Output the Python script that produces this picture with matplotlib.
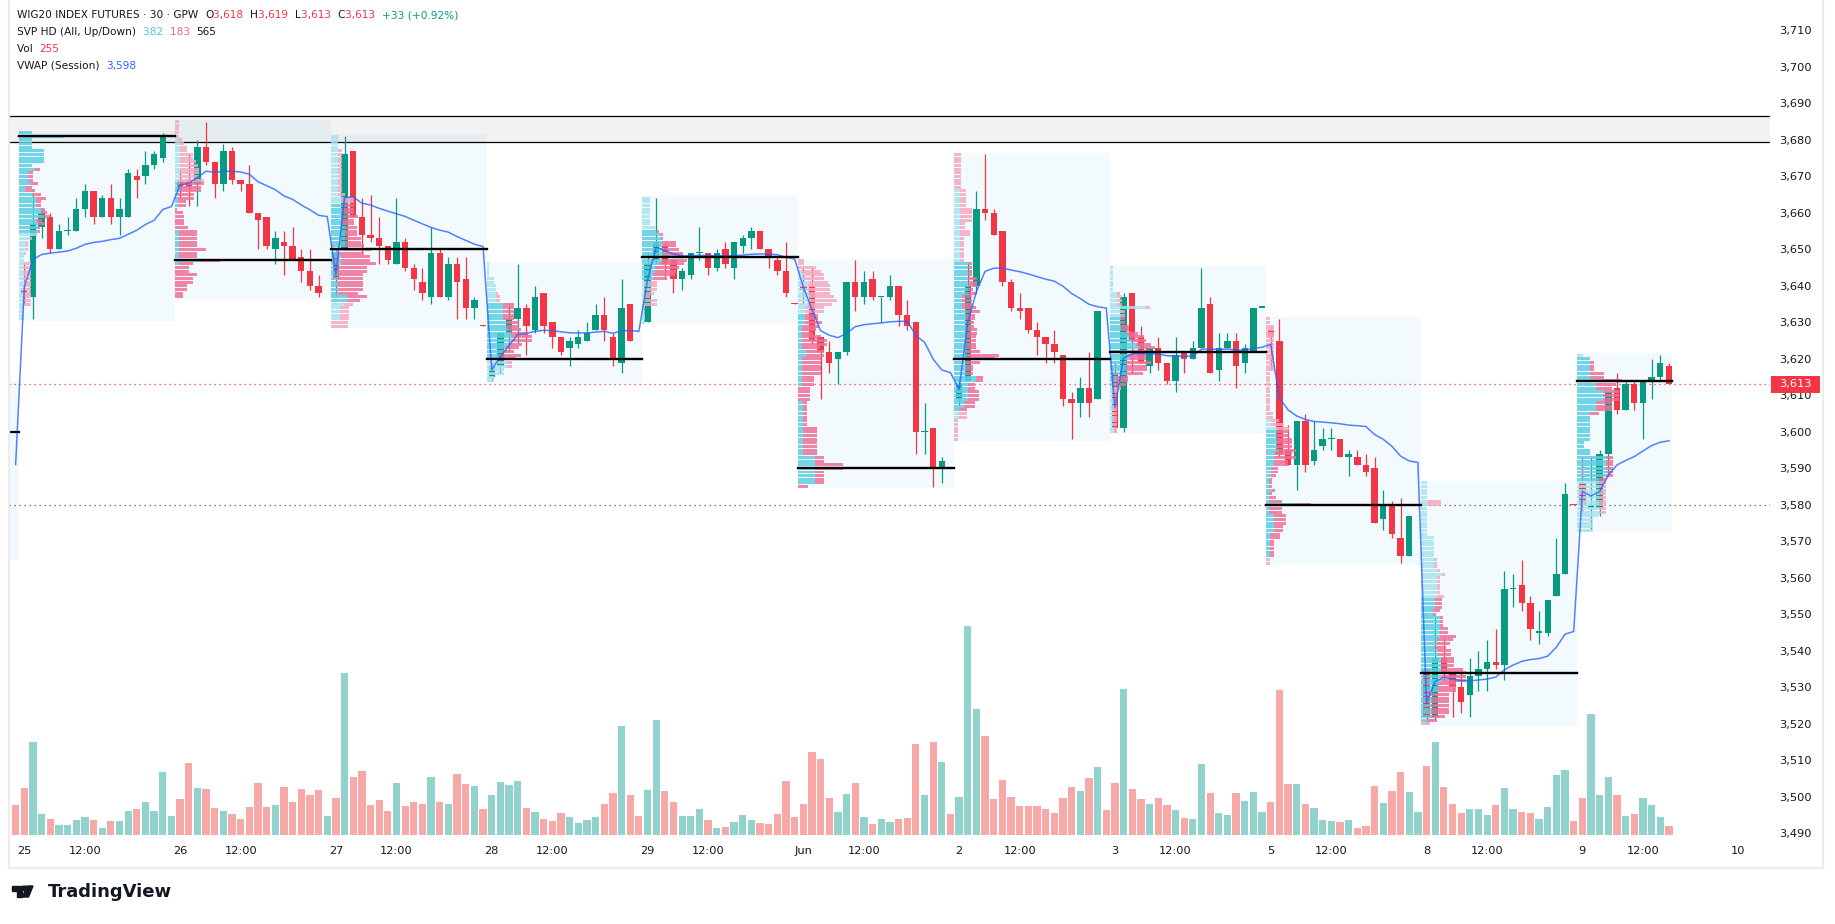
import matplotlib
matplotlib.use('Agg')
import matplotlib.pyplot as plt
import numpy as np
from matplotlib.patches import Rectangle, Polygon, Circle

# WIG20 index futures, 30 minute bars, 18 bars per session (08:30 .. 17:00)
day_labels = ['25', '26', '27', '28', '29', 'Jun', '2', '3', '5', '8', '9', '10']
BARS_PER_DAY = 18

# first value of every list = last bar of the 22 May session (index -1)
opens = [3600.2,
    3639, 3637, 3656, 3659, 3650, 3655, 3655, 3661, 3666, 3659, 3664, 3659, 3659, 3670, 3670, 3673, 3675, 3681,
    3669, 3669, 3668, 3678, 3674, 3668, 3677, 3669, 3668, 3660, 3659, 3650, 3652, 3651, 3648, 3644, 3640, 3647,
    3649, 3650, 3677, 3659, 3654, 3653, 3651, 3646, 3652, 3645, 3641, 3637, 3649, 3637, 3646, 3642, 3634, 3629.3,
    3615, 3618, 3627, 3631, 3634, 3628, 3638, 3630, 3626, 3623, 3624, 3625, 3628, 3632, 3626, 3619, 3635, 3620.3,
    3630, 3647, 3651, 3647, 3642, 3643, 3649, 3649, 3645, 3650, 3645, 3651, 3653, 3655, 3650, 3647, 3644, 3635.3,
    3640, 3640, 3626, 3622, 3620, 3622, 3641, 3637, 3642, 3637, 3637, 3640, 3632, 3630, 3600, 3601, 3590, 3590.3,
    3609, 3614, 3640, 3661, 3660, 3655, 3641, 3634, 3634, 3628, 3626, 3624, 3621, 3609, 3608, 3612, 3609, 3620.3,
    3616, 3601, 3638, 3626, 3618, 3623, 3619, 3614, 3622, 3620, 3623, 3635, 3617, 3623, 3625, 3619, 3622, 3634,
    3628, 3625, 3595, 3591, 3603, 3592, 3596, 3598, 3598, 3593, 3593, 3591, 3590, 3576, 3580, 3571, 3566, 3580,
    3535, 3522, 3538, 3534, 3530, 3528, 3533, 3535, 3537, 3536, 3557, 3558, 3553, 3545, 3545, 3555, 3561, 3580.3,
    3586, 3579, 3579, 3594, 3612, 3606, 3613, 3608, 3614, 3615, 3618]
highs = [3600.2,
    3646, 3665, 3661, 3660, 3657, 3659, 3664, 3668, 3666, 3665, 3668, 3664, 3672, 3672, 3677, 3677, 3682, 3681,
    3672, 3676, 3680, 3685, 3674, 3679, 3678, 3669, 3673, 3660, 3659, 3655, 3655, 3656, 3650, 3650, 3643, 3647,
    3650, 3681, 3677, 3664, 3665, 3659, 3651, 3664, 3653, 3646, 3645, 3656, 3650, 3648, 3648, 3648, 3637, 3629.3,
    3619, 3627, 3635, 3646, 3635, 3640, 3638, 3630, 3626, 3626, 3628, 3630, 3635, 3637, 3627, 3642, 3635, 3620.3,
    3649, 3664, 3652, 3647, 3645, 3649, 3656, 3649, 3650, 3652, 3652, 3654, 3656, 3655, 3650, 3648, 3652, 3635.3,
    3645, 3645, 3626, 3625, 3622, 3641, 3647, 3644, 3644, 3637, 3643, 3640, 3636, 3630, 3608, 3601, 3593, 3590.3,
    3615, 3646, 3666, 3676, 3661, 3655, 3642, 3638, 3634, 3630, 3626, 3628, 3621, 3611, 3615, 3622, 3633, 3620.3,
    3619, 3638, 3638, 3629, 3623, 3626, 3619, 3626, 3622, 3625, 3645, 3637, 3627, 3627, 3627, 3624, 3634, 3634,
    3629, 3631, 3602, 3603, 3605, 3603, 3601, 3601, 3598, 3595, 3595, 3594, 3593, 3584, 3581, 3582, 3577, 3580,
    3535, 3549, 3544, 3534, 3534, 3538, 3540, 3543, 3546, 3562, 3561, 3565, 3555, 3551, 3554, 3571, 3586, 3580.3,
    3593, 3593, 3595, 3611, 3616, 3614, 3614, 3614, 3620, 3621, 3619]
lows = [3600,
    3635, 3631, 3653, 3649, 3650, 3654, 3655, 3659, 3657, 3659, 3657, 3654, 3659, 3664, 3668, 3672, 3674, 3681,
    3664, 3662, 3662, 3673, 3664, 3666, 3668, 3666, 3660, 3650, 3650, 3646, 3643, 3647, 3641, 3639, 3637, 3647,
    3637, 3650, 3659, 3649, 3652, 3646, 3646, 3646, 3644, 3639, 3636, 3635, 3637, 3636, 3631, 3631, 3631, 3629,
    3614, 3616, 3622, 3624, 3621, 3627, 3627, 3623, 3621, 3618, 3623, 3625, 3628, 3625, 3618, 3616, 3625, 3620,
    3630, 3646, 3642, 3638, 3639, 3642, 3647, 3643, 3644, 3645, 3642, 3649, 3650, 3650, 3645, 3643, 3637, 3635,
    3635, 3624, 3609, 3616, 3613, 3621, 3633, 3635, 3636, 3630, 3636, 3629, 3628, 3594, 3594, 3585, 3586, 3590,
    3607, 3614, 3638, 3658, 3654, 3640, 3633, 3631, 3627, 3621, 3619, 3619, 3607, 3598, 3604, 3604, 3609, 3620,
    3600, 3600, 3616, 3619, 3616, 3617, 3613, 3611, 3616, 3620, 3623, 3616, 3614, 3623, 3612, 3616, 3622, 3634,
    3617, 3593, 3591, 3584, 3589, 3591, 3595, 3595, 3593, 3588, 3591, 3588, 3575, 3573, 3571, 3564, 3566, 3580,
    3520, 3521, 3532, 3522, 3523, 3522, 3529, 3529, 3535, 3532, 3552, 3551, 3543, 3542, 3544, 3555, 3561, 3580,
    3578, 3573, 3577, 3588, 3605, 3606, 3606, 3598, 3609, 3614, 3613]
closes = [3600,
    3638, 3657, 3660, 3650, 3655, 3655, 3661, 3666, 3659, 3664, 3659, 3661, 3671, 3669, 3673, 3676, 3681, 3681,
    3667, 3667, 3678, 3674, 3668, 3677, 3669, 3668, 3660, 3658, 3651, 3653, 3651, 3647, 3644, 3640, 3638, 3647,
    3642, 3676, 3659, 3654, 3653, 3651, 3647, 3652, 3645, 3642, 3638, 3649, 3637, 3646, 3641, 3634, 3636, 3629,
    3618, 3627, 3631, 3634, 3629, 3637, 3629, 3626, 3622, 3625, 3626, 3627, 3632, 3628, 3620, 3634, 3625, 3620,
    3646, 3652, 3646, 3642, 3644, 3649, 3649, 3645, 3649, 3646, 3652, 3653, 3655, 3650, 3648, 3644, 3638, 3635,
    3639, 3625, 3622, 3619, 3622, 3641, 3637, 3641, 3637, 3637, 3640, 3632, 3629, 3600, 3600, 3590, 3592, 3590,
    3613, 3640, 3661, 3660, 3654, 3641, 3634, 3633, 3628, 3626, 3624, 3622, 3609, 3608, 3612, 3608, 3633, 3620,
    3601, 3637, 3625, 3619, 3623, 3619, 3614, 3621, 3620, 3623, 3634, 3616, 3623, 3625, 3618, 3623, 3634, 3634,
    3626, 3594, 3591, 3603, 3591, 3595, 3598, 3598, 3593, 3594, 3591, 3589, 3575, 3580, 3572, 3566, 3577, 3580,
    3522, 3538, 3534, 3530, 3526, 3533, 3535, 3537, 3536, 3557, 3557, 3553, 3546, 3545, 3554, 3561, 3583, 3580,
    3580, 3580, 3594, 3611, 3606, 3613, 3608, 3614, 3615, 3619, 3613]
volumes = [852,
    1321, 2641, 582, 435, 264, 264, 409, 488, 409, 185, 383, 383, 662, 713, 912, 662, 1769, 514,
    1003, 2022, 1321, 1281, 753, 662, 582, 435, 778, 1454, 778, 832, 1346, 912, 1281, 1122, 1255, 514,
    1031, 4584, 1624, 1798, 832, 977, 662, 1454, 807, 912, 858, 1624, 912, 858, 1718, 1426, 1375, 713,
    1122, 1480, 1400, 1519, 753, 633, 435, 383, 608, 488, 318, 409, 488, 858, 1176, 3079, 1122, 514,
    1255, 3249, 1230, 912, 514, 514, 713, 409, 185, 210, 358, 554, 409, 318, 290, 582, 1519, 488,
    858, 2337, 2139, 1031, 633, 1150, 1454, 488, 290, 435, 358, 435, 463, 2562, 1122, 2616, 2048, 582,
    1056, 5919, 3578, 2786, 1003, 1545, 1056, 807, 807, 807, 713, 608, 1031, 1346, 1230, 1599, 1914, 687,
    1454, 4146, 1281, 1003, 858, 1031, 832, 687, 463, 435, 1994, 1176, 608, 554, 1176, 951, 1201, 633,
    912, 4095, 1426, 1426, 858, 753, 409, 383, 358, 409, 185, 239, 1375, 886, 1230, 1769, 1201, 633,
    1960, 2641, 1355, 880, 625, 730, 730, 560, 852, 1326, 730, 653, 625, 454, 787, 1704, 1846, 398,
    1042, 3428, 1136, 1639, 1136, 540, 596, 1042, 852, 503, 255]

prev_vwap = 3591            # session VWAP of 22 May at the left edge
prev_box = (3565, 3614)     # 22 May profile range (only a sliver is visible)
poc_levels = [3600, 3681, 3647, 3650, 3620, 3648, 3590, 3620, 3622, 3580, 3534, 3614]
zone = (3679.5, 3686.6)     # grey resistance band
last_price = 3613
prev_close = 3580

GREEN, RED = '#089981', '#f23645'
TXT = '#131722'

o = np.array(opens, float)
h = np.array(highs, float)
l = np.array(lows, float)
c = np.array(closes, float)
v = np.array(volumes, float)
assert len(o) == len(h) == len(l) == len(c) == len(v)
idx = np.arange(len(o)) - 1
up = c >= o

fig = plt.figure(figsize=(18.35, 9.24), dpi=100)
W, H = 1835, 924
ax_v = fig.add_axes([9.4 / W, 1 - 839 / H, (1769.5 - 9.4) / W, 836 / H])
ax = fig.add_axes(ax_v.get_position(), sharex=ax_v)
ax.set_zorder(ax_v.get_zorder() + 1)
ax.patch.set_visible(False)

ax.set_xlim(-1.72, 201.62)
ax.set_ylim(3488.44, 3717.51)

# volume (overlay pane at the bottom)
ax_v.bar(idx, v, width=0.84, color=np.where(up, '#92d2cc', '#f7a9a7'), zorder=1)
ax_v.set_ylim(-125, 23617)
ax_v.axis('off')

# session boxes, profiles, POC lines
n_days = len(day_labels) - 1
ax.add_patch(Rectangle((-1.6, prev_box[0]), 1.0, prev_box[1] - prev_box[0],
                       facecolor='#f2fafd', edgecolor='none', zorder=1))
ax.plot([-1.6, -0.6], [poc_levels[0]] * 2, color='black', lw=1.6, zorder=7)

vwap = [prev_vwap]
for d in range(n_days):
    sel = (idx >= d * BARS_PER_DAY) & (idx < (d + 1) * BARS_PER_DAY)
    if not sel.any():
        continue
    bi = idx[sel]
    x0, x1 = bi[0] - 0.6, bi[-1] + 0.4
    lo, hi = l[sel].min(), h[sel].max()
    ax.add_patch(Rectangle((x0, lo - 0.5), x1 - x0, hi - lo + 1.0,
                           facecolor='#f2fafd', edgecolor='none', zorder=1))

    levels = np.arange(np.floor(lo), np.ceil(hi) + 1)
    vu = np.zeros(len(levels))
    vd = np.zeros(len(levels))
    for lo_b, hi_b, vol_b, up_b in zip(l[sel], h[sel], v[sel], up[sel]):
        m = (levels >= np.floor(lo_b)) & (levels <= np.ceil(hi_b))
        if up_b:
            vu[m] += vol_b / m.sum()
        else:
            vd[m] += vol_b / m.sum()
    tot = vu + vd
    # value area: 70% of the session volume around the POC row
    p = int(np.argmax(tot))
    a, b = p, p
    acc = tot[p]
    while acc < 0.7 * tot.sum():
        below = tot[a - 1] if a > 0 else -1
        above = tot[b + 1] if b < len(tot) - 1 else -1
        if above >= below:
            b += 1
            acc += tot[b]
        else:
            a -= 1
            acc += tot[a]
    in_va = (np.arange(len(tot)) >= a) & (np.arange(len(tot)) <= b)
    scale = 5.2 / tot.max()
    ax.barh(levels, vu * scale, left=x0, height=0.82,
            color=np.where(in_va, '#5ccfe4', '#a8e3ee'), alpha=0.85, zorder=4)
    ax.barh(levels, vd * scale, left=x0 + vu * scale, height=0.82,
            color=np.where(in_va, '#ef6f98', '#f5a9c2'), alpha=0.85, zorder=4)
    ax.plot([x0, x1], [poc_levels[d + 1]] * 2, color='black', lw=1.7, zorder=7)

    tp = (h[sel] + l[sel] + c[sel]) / 3
    vwap += list(np.cumsum(tp * v[sel]) / np.cumsum(v[sel]))

ax.plot(idx, vwap, color='#2962ff', lw=1.1, alpha=0.8, zorder=6)

# candles
col = np.where(up, GREEN, RED)
ax.vlines(idx, l, h, colors=col, lw=0.9, zorder=3)
body = np.maximum(np.abs(c - o), 0.35)
ax.bar(idx, body, bottom=np.minimum(o, c), width=0.74, color=col, zorder=3)

# grey band and price lines
ax.axhspan(zone[0], zone[1], facecolor='black', alpha=0.05, zorder=2)
ax.axhline(zone[0], color='black', lw=0.9, zorder=2)
ax.axhline(zone[1], color='black', lw=0.9, zorder=2)
ax.axhline(last_price, color=RED, lw=0.9, ls=(0, (1, 3)), zorder=2)
ax.axhline(prev_close, color='#555555', lw=0.9, ls=(0, (1, 3)), zorder=2)

# axes
for s in ax.spines.values():
    s.set_visible(False)
yt = np.arange(3490, 3711, 10)
ax.yaxis.tick_right()
ax.set_yticks(yt)
ax.set_yticklabels([f'{t:,}' for t in yt])
ax.tick_params(axis='y', length=0, pad=7, labelsize=8.2, labelcolor=TXT)

xt, xl = [], []
for d, lab in enumerate(day_labels):
    xt.append(d * BARS_PER_DAY)
    xl.append(lab)
    if d < len(day_labels) - 1:
        xt.append(d * BARS_PER_DAY + 7)
        xl.append('12:00')
ax.set_xticks(xt)
ax.set_xticklabels(xl)
ax.tick_params(axis='x', length=0, pad=5, labelsize=8.2, labelcolor=TXT)

# overlay in pixel coordinates for legend, price tag, logo
ov = fig.add_axes([0, 0, 1, 1], zorder=10)
ov.set_xlim(0, W)
ov.set_ylim(H, 0)
ov.axis('off')
ov.add_patch(Rectangle((8.5, -5), 1814, 873, fill=False, edgecolor='#ececec', lw=1.6))

renderer = fig.canvas.get_renderer()


def legend_row(y, parts, x=17):
    for s, color in parts:
        t = ov.text(x, y, s, color=color, fontsize=7.6, va='center', ha='left')
        x = t.get_window_extent(renderer=renderer).x1


legend_row(15, [('WIG20 INDEX FUTURES · 30 · GPW  ', TXT), ('O', TXT), ('3,618  ', RED), ('H', TXT),
                ('3,619  ', RED), ('L', TXT), ('3,613  ', RED), ('C', TXT), ('3,613  ', RED),
                ('+33 (+0.92%)', GREEN)])
legend_row(32, [('SVP HD (All, Up/Down)  ', TXT), ('382  ', '#4fc3dc'), ('183  ', '#f06292'), ('565', TXT)])
legend_row(49, [('Vol  ', TXT), ('255', RED)])
legend_row(66, [('VWAP (Session)  ', TXT), ('3,598', '#2962ff')])

# last price tag on the price scale
yp = H - ax.transData.transform((0, last_price))[1]
ov.add_patch(Rectangle((1771, yp - 8.5), 49, 17, facecolor=RED, edgecolor='none'))
ov.text(1795.5, yp, f'{last_price:,}', color='white', fontsize=8.2, ha='center', va='center')

# TradingView logo
ov.add_patch(Polygon([(12, 886), (21.5, 886), (21.5, 897), (16.5, 897), (16.5, 891), (12, 891)],
                     closed=True, color=TXT))
ov.add_patch(Circle((24.3, 888.3), 2.2, color=TXT))
ov.add_patch(Polygon([(27, 886), (33, 886), (28.5, 897), (22.5, 897)], closed=True, color=TXT))
ov.text(48, 892, 'TradingView', fontsize=13, fontweight='bold', color=TXT, ha='left', va='center')

fig.savefig('out.png', dpi=100)
